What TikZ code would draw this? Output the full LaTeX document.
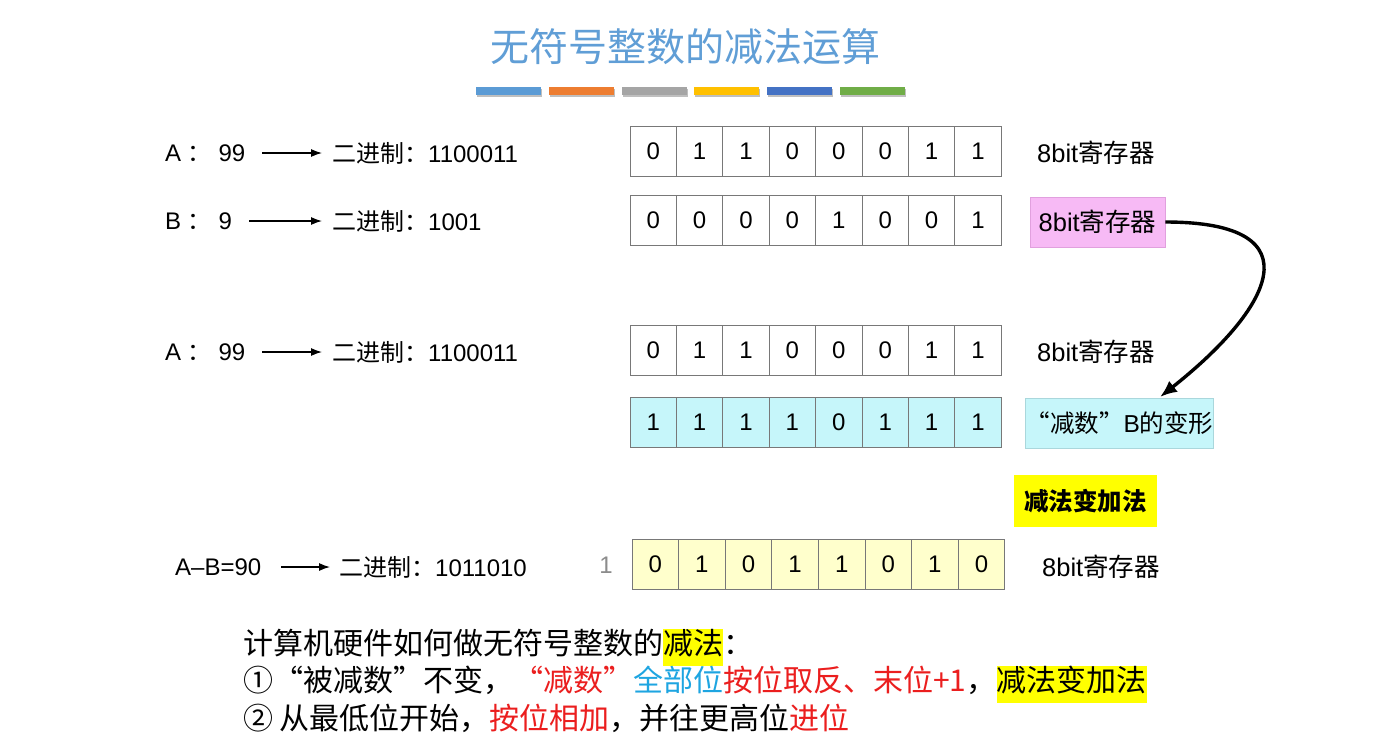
\documentclass[tikz,border=0pt]{standalone}
\usepackage{fontspec}
\setmainfont{Liberation Sans}
\newfontfamily\cjk{Noto Sans CJK SC}
\usetikzlibrary{arrows.meta}
\definecolor{titleblue}{RGB}{96,158,214}
\definecolor{barA}{RGB}{91,155,213}
\definecolor{barB}{RGB}{237,125,49}
\definecolor{barC}{RGB}{165,165,165}
\definecolor{barD}{RGB}{255,192,0}
\definecolor{barE}{RGB}{68,114,196}
\definecolor{barF}{RGB}{112,173,71}
\definecolor{cellgray}{RGB}{120,120,120}
\definecolor{pinkfill}{RGB}{247,186,245}
\definecolor{pinkline}{RGB}{225,160,222}
\definecolor{cyanfill}{RGB}{198,246,250}
\definecolor{cyanline}{RGB}{170,215,220}
\definecolor{lightyellow}{RGB}{255,255,204}
\definecolor{hly}{RGB}{255,255,0}
\definecolor{myred}{RGB}{235,30,30}
\definecolor{myblue}{RGB}{30,165,225}
\definecolor{carrygray}{RGB}{140,140,140}
\newcommand\zh[1]{{\cjk #1}}
\newcommand\hlt[1]{{\setlength{\fboxsep}{0pt}\colorbox{hly}{\strut #1}}}
\begin{document}
\begin{tikzpicture}[x=1pt,y=-1pt,
  lbl/.style={inner sep=0pt, anchor=west, font=\fontsize{24}{28}\selectfont},
  reglbl/.style={inner sep=0pt, anchor=west, font=\fontsize{25.5}{30}\selectfont},
  cell/.style={draw=cellgray, line width=1pt, minimum width=46.4pt, minimum height=50pt, inner sep=0pt, font=\fontsize{24}{27}\selectfont},
  regbox/.style={inner sep=0pt, font=\fontsize{25.5}{30}\selectfont},
  arr/.style={-{Latex[length=11pt,width=8pt]}, line width=1.2pt},
  bottom/.style={inner sep=0pt, anchor=west, font=\fontsize{30}{37}\selectfont}]
\useasboundingbox (0,0) rectangle (1395,745);
\fill[white] (0,0) rectangle (1395,745);

% title
\node[inner sep=0pt, text=titleblue, font=\fontsize{39}{44}\selectfont] (title) at (685,47) {\zh{无符号整数的减法运算}};

% colour bars
\foreach \c [count=\i] in {barA,barB,barC,barD,barE,barF}{
  \fill[black!25] ({476+72.8*(\i-1)+1},89) rectangle ({476+72.8*(\i-1)+66},96.5);
  \fill[\c] ({476+72.8*(\i-1)},87) rectangle ({476+72.8*(\i-1)+65},94.5);
}

% row 1
\node[lbl] (la1) at (165,153) {A \zh{：} 99};
\node[lbl] (lb1) at (332,153) {\zh{二进制：}1100011};
\draw[arr, shorten <=17pt, shorten >=10pt] (la1.east) -- (lb1.west);
\foreach \b [count=\i] in {0,1,1,0,0,0,1,1}
  \node[cell] (ra\i) at ({653.2+46.4*(\i-1)},151) {\b};
\node[reglbl] (reg1) at (1037,153) {8bit\zh{寄存器}};

% row 2
\node[lbl] (la2) at (165,221) {B \zh{：} 9};
\node[lbl] (lb2) at (332,221) {\zh{二进制：}1001};
\draw[arr, shorten <=17pt, shorten >=10pt] (la2.east) -- (lb2.west);
\foreach \b [count=\i] in {0,0,0,0,1,0,0,1}
  \node[cell] (rb\i) at ({653.2+46.4*(\i-1)},220) {\b};
\node[regbox, fill=pinkfill, draw=pinkline, line width=0.6pt, minimum width=135pt, minimum height=50pt] (reg2) at (1097.5,222) {8bit\zh{寄存器}};

% row 3
\node[lbl] (la3) at (165,352) {A \zh{：} 99};
\node[lbl] (lb3) at (332,352) {\zh{二进制：}1100011};
\draw[arr, shorten <=17pt, shorten >=10pt] (la3.east) -- (lb3.west);
\foreach \b [count=\i] in {0,1,1,0,0,0,1,1}
  \node[cell] (rc\i) at ({653.2+46.4*(\i-1)},350.5) {\b};
\node[reglbl] (reg3) at (1037,352) {8bit\zh{寄存器}};

% row 4
\foreach \b [count=\i] in {1,1,1,1,0,1,1,1}
  \node[cell, fill=cyanfill] (rd\i) at ({653.2+46.4*(\i-1)},422.5) {\b};
\node[regbox, fill=cyanfill, draw=cyanline, line width=0.6pt, minimum width=187pt, minimum height=50pt, font=\fontsize{24.5}{29}\selectfont] (reg4) at (1119.5,423) {\zh{“减数”}B\zh{的变形}};

% curved arrow
\coordinate (tip) at (1160,397);
\draw[-{Latex[length=17pt,width=14pt]}, line width=3.4pt] (reg2.east) .. controls (1320,222) and (1270,310) .. (tip);

% yellow label
\node[regbox, fill=hly, minimum width=143pt, minimum height=52pt, font=\fontsize{24.5}{29}\selectfont\bfseries] (addlbl) at (1085.5,501) {\zh{减法变加法}};

% row 5
\node[lbl] (la5) at (175,567) {A–B=90};
\node[lbl] (lb5) at (339,567) {\zh{二进制：}1011010};
\draw[arr, shorten <=20pt, shorten >=9pt] (la5.east) -- (lb5.west);
\node[inner sep=0pt, text=carrygray, font=\fontsize{24}{27}\selectfont] (carry) at (606,565) {1};
\foreach \b [count=\i] in {0,1,0,1,1,0,1,0}
  \node[cell, fill=lightyellow, minimum width=46.6pt] (re\i) at ({655.3+46.6*(\i-1)},564.5) {\b};
\node[reglbl] (reg5) at (1042,567) {8bit\zh{寄存器}};

% bottom text
\node[bottom] (t1) at (243,647) {\zh{计算机硬件如何做无符号整数的\hlt{减法}：}};
\node[bottom] (t2) at (243,684) {\zh{①“被减数”不变，\textcolor{myred}{“减数”}\textcolor{myblue}{全部位}\textcolor{myred}{按位取反、末位+1}，\hlt{减法变加法}}};
\node[bottom] (t3) at (243,718) {\zh{② 从最低位开始，\textcolor{myred}{按位相加}，并往更高位\textcolor{myred}{进位}}};
\end{tikzpicture}
\end{document}
